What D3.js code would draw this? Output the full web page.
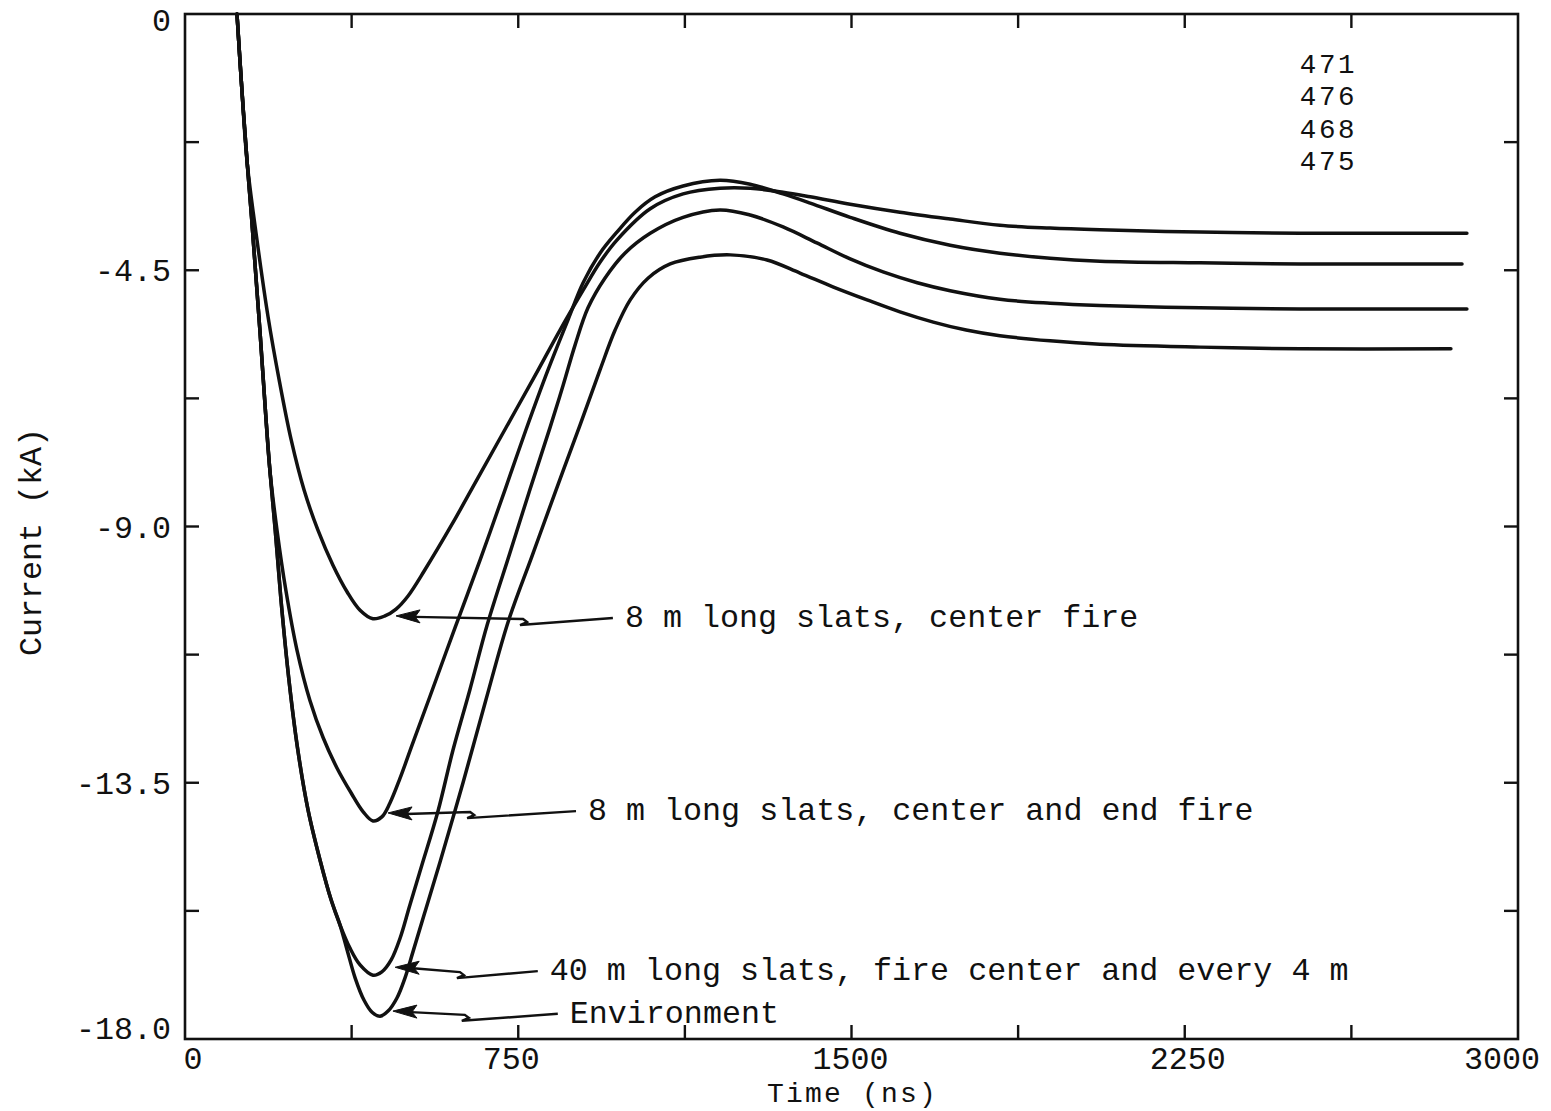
<!DOCTYPE html>
<html><head><meta charset="utf-8">
<script src="https://cdn.jsdelivr.net/npm/d3@7"></script>
<style>
body{margin:0;background:#fff}
text{font-family:"Liberation Mono","DejaVu Sans Mono",monospace;fill:#111}
</style>
</head><body>
<svg id="c" width="1551" height="1111"></svg>
<script>
// ---- data (time in ns, current in kA) ----
const tA=[117,128,140,162,187,212,239,268,299,333,365,394,423,450,475,502,540,601,659,722,785,844,896,934,972,1047,1121,1204,1272,1346,1407,1497,1609,1722,1834,1947,2059,2284,2510,2885];
const iA=[0,-1.33,-2.62,-3.97,-5.32,-6.43,-7.48,-8.36,-9.06,-9.68,-10.15,-10.47,-10.62,-10.57,-10.45,-10.22,-9.76,-8.96,-8.15,-7.27,-6.39,-5.55,-4.85,-4.36,-3.97,-3.42,-3.16,-3.06,-3.06,-3.13,-3.21,-3.34,-3.48,-3.60,-3.71,-3.76,-3.79,-3.83,-3.85,-3.85];

const tB=[117,128,140,149,158,169,182,191,207,227,252,281,311,342,374,401,423,443,461,484,511,551,608,664,720,767,817,862,896,934,972,1013,1058,1121,1204,1272,1346,1407,1497,1609,1722,1834,1947,2059,2284,2510,2874];
const iB=[0,-1.33,-2.62,-3.49,-4.44,-5.60,-7.08,-8.01,-9.06,-10.12,-11.17,-12.05,-12.71,-13.24,-13.68,-14.01,-14.17,-14.10,-13.86,-13.42,-12.84,-11.99,-10.77,-9.59,-8.36,-7.31,-6.25,-5.37,-4.72,-4.20,-3.83,-3.48,-3.21,-3.02,-2.92,-2.99,-3.16,-3.32,-3.57,-3.85,-4.06,-4.20,-4.29,-4.34,-4.37,-4.39,-4.39];

const tC=[117,128,140,149,158,169,182,191,203,216,234,254,277,304,329,349,371,394,423,443,464,484,506,533,569,603,641,680,731,776,822,851,878,907,945,990,1047,1121,1204,1272,1346,1422,1497,1571,1648,1722,1834,1947,2059,2284,2510,2885];
const iC=[0,-1.33,-2.62,-3.49,-4.44,-5.60,-7.08,-8.01,-9.06,-10.29,-11.70,-12.93,-13.98,-14.86,-15.56,-16.00,-16.40,-16.70,-16.88,-16.82,-16.61,-16.23,-15.65,-14.95,-14.01,-12.93,-11.87,-10.73,-9.47,-8.36,-7.25,-6.52,-5.81,-5.16,-4.64,-4.20,-3.85,-3.57,-3.44,-3.53,-3.74,-4.02,-4.30,-4.53,-4.72,-4.86,-5.01,-5.08,-5.12,-5.16,-5.18,-5.18];

const tD=[117,128,140,149,158,169,182,191,203,216,234,254,277,304,329,349,365,383,403,421,439,457,477,495,513,540,574,626,677,727,781,835,889,934,968,1002,1042,1092,1159,1227,1310,1384,1458,1535,1609,1684,1758,1834,1947,2059,2284,2510,2849];
const iD=[0,-1.33,-2.62,-3.49,-4.44,-5.60,-7.08,-8.01,-9.06,-10.29,-11.70,-12.93,-13.98,-14.86,-15.56,-16.00,-16.44,-16.93,-17.32,-17.53,-17.60,-17.51,-17.28,-16.93,-16.47,-15.77,-14.89,-13.49,-12.05,-10.68,-9.52,-8.36,-7.22,-6.25,-5.55,-5.02,-4.64,-4.39,-4.27,-4.23,-4.32,-4.55,-4.79,-5.02,-5.23,-5.41,-5.55,-5.65,-5.74,-5.80,-5.85,-5.88,-5.88];

const xTicks=[0,375,750,1125,1500,1875,2250,2625,3000];
const xLabelValues=[0,750,1500,2250,3000];
const xTickLabels=["0","750","1500","2250","3000"];
const yTicks=[0,-2.25,-4.5,-6.75,-9,-11.25,-13.5,-15.75,-18];
const yLabelValues=[0,-4.5,-9,-13.5,-18];
const yTickLabels=["0","-4.5","-9.0","-13.5","-18.0"];

const runIds=["471","476","468","475"];
const annoText=["8 m long slats, center fire","8 m long slats, center and end fire","40 m long slats, fire center and every 4 m","Environment"];
const annoTextT=[990,907,821,866];
const annoTextI=[-10.59,-13.98,-16.79,-17.54];
const annoTipT=[475,457,473,468];
const annoTipI=[-10.57,-14.03,-16.74,-17.51];
const annoKinkT=[754,635,612,623];

// ---- drawing ----
const svg=d3.select("#c");
svg.append("rect").attr("width",1551).attr("height",1111).attr("fill","#fff");
const x=d3.scaleLinear().domain([0,3000]).range([185,1518]);
const y=d3.scaleLinear().domain([0,-18]).range([14,1039]);

svg.append("rect").attr("x",x(0)).attr("y",y(0)).attr("width",x(3000)-x(0)).attr("height",y(-18)-y(0))
  .attr("fill","none").attr("stroke","#111").attr("stroke-width",2.6);

const tl=14;
const g=svg.append("g").attr("stroke","#111").attr("stroke-width",2.4);
xTicks.slice(1,-1).forEach(v=>{
  g.append("line").attr("x1",x(v)).attr("x2",x(v)).attr("y1",y(-18)).attr("y2",y(-18)-tl);
  g.append("line").attr("x1",x(v)).attr("x2",x(v)).attr("y1",y(0)).attr("y2",y(0)+tl);
});
yTicks.slice(1,-1).forEach(v=>{
  g.append("line").attr("x1",x(0)).attr("x2",x(0)+tl).attr("y1",y(v)).attr("y2",y(v));
  g.append("line").attr("x1",x(3000)).attr("x2",x(3000)-tl).attr("y1",y(v)).attr("y2",y(v));
});

const fs=31.7;
const xdx=[8,-7,-1,3,-16];
xLabelValues.forEach((v,k)=>{
  svg.append("text").attr("x",x(v)+xdx[k]).attr("y",1069).attr("text-anchor","middle")
    .attr("font-size",fs).text(xTickLabels[k]);
});
yLabelValues.forEach((v,k)=>{
  let dy=0; if(k===0)dy=6; if(k===yLabelValues.length-1)dy=-11;
  svg.append("text").attr("x",171).attr("y",y(v)+dy+11).attr("text-anchor","end")
    .attr("font-size",fs).text(yTickLabels[k]);
});
svg.append("text").attr("x",x(1500)+1).attr("y",1102).attr("text-anchor","middle")
  .attr("font-size",28).attr("letter-spacing",2.2).text("Time (ns)");
svg.append("text").attr("transform","translate(41,542) rotate(-90)").attr("text-anchor","middle").attr("font-size",fs).text("Current (kA)");

const line=d3.line().x(d=>x(d[0])).y(d=>y(d[1])).curve(d3.curveCatmullRom.alpha(0.5));
[[tA,iA],[tB,iB],[tC,iC],[tD,iD]].forEach(([t,c])=>{
  svg.append("path").datum(t.map((v,k)=>[v,c[k]])).attr("d",line)
    .attr("fill","none").attr("stroke","#111").attr("stroke-width",3.5)
    .attr("stroke-linejoin","round").attr("stroke-linecap","round");
});

runIds.forEach((s,k)=>{
  svg.append("text").attr("x",x(2509)).attr("y",y(-0.86)+10+k*32.3)
    .attr("font-size",27.5).attr("letter-spacing",2.6).text(s);
});

annoText.forEach((s,k)=>{
  const tx=x(annoTextT[k]), ty=y(annoTextI[k]);
  svg.append("text").attr("x",tx).attr("y",ty+10).attr("font-size",fs).text(s);
  const px=x(annoTipT[k]), py=y(annoTipI[k]), kx=x(annoKinkT[k]);
  const p=d3.path();
  p.moveTo(tx-12,ty+1);
  p.lineTo(kx,ty+8);
  p.lineTo(kx+7,ty+5);
  p.lineTo(kx+3,ty+2);
  p.lineTo(px+18,py+1);
  svg.append("path").attr("d",p.toString()).attr("fill","none").attr("stroke","#111").attr("stroke-width",2.4);
  svg.append("path").attr("d",`M${px},${py}L${px+24},${py-6}L${px+19},${py+1}L${px+24},${py+7}Z`)
    .attr("fill","#111").attr("stroke","#111").attr("stroke-width",1);
});
</script>
</body></html>
